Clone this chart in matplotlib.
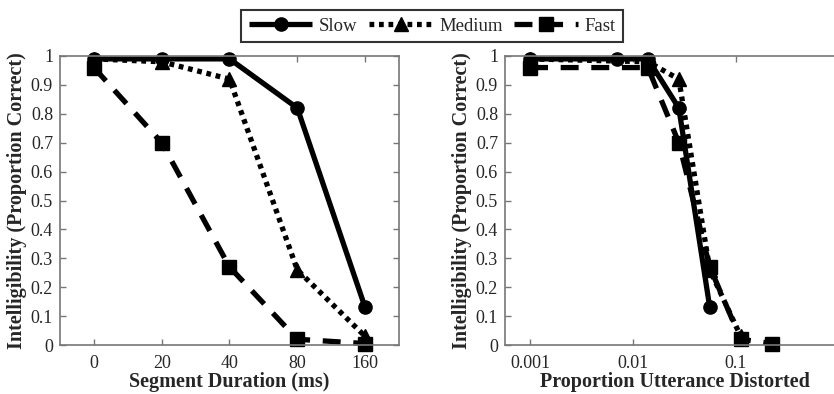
import matplotlib
matplotlib.use("Agg")
import matplotlib.pyplot as plt
from matplotlib.ticker import FixedLocator, NullLocator, FuncFormatter

plt.rcParams['font.family'] = ['Liberation Serif', 'DejaVu Serif']

# ---------------- data ----------------
durations = ["0", "20", "40", "80", "160"]
slow_left = [0.99, 0.99, 0.99, 0.82, 0.13]
medium_left = [0.99, 0.98, 0.92, 0.26, 0.03]
fast_left = [0.96, 0.70, 0.27, 0.02, 0.005]

slow_x = [0.001, 0.007, 0.014, 0.028, 0.056]
slow_right = [0.99, 0.99, 0.99, 0.82, 0.13]
medium_x = [0.001, 0.014, 0.028, 0.056, 0.112]
medium_right = [0.99, 0.98, 0.92, 0.26, 0.03]
fast_x = [0.001, 0.014, 0.028, 0.056, 0.112, 0.224]
fast_right = [0.96, 0.96, 0.70, 0.27, 0.02, 0.005]

series_names = ["Slow", "Medium", "Fast"]
yticks = [0, 0.1, 0.2, 0.3, 0.4, 0.5, 0.6, 0.7, 0.8, 0.9, 1]
xticks_right = [0.001, 0.01, 0.1]
xtick_labels_right = ["0.001", "0.01", "0.1"]

# ---------------- style ----------------
LW = 3.8
MS = 9.5
styles = {
    "Slow": dict(linestyle='-', marker='o'),
    "Medium": dict(linestyle=(0, (0.9, 0.9)), marker='^'),
    "Fast": dict(linestyle=(0, (3.4, 2.4)), marker='s'),
}
spine_col = '#777777'
text_col = '#262626'

fig = plt.figure(figsize=(8.34, 3.94), dpi=100)
W, H = 834, 394
ax1 = fig.add_axes([60 / W, (H - 345) / H, 339 / W, 289 / H])
ax2 = fig.add_axes([505 / W, (H - 345) / H, 339 / W, 289 / H])


def yfmt(v, pos):
    s = f"{v:.1f}"
    if s.endswith(".0"):
        s = s[:-2]
    return s


def style_axes(ax, box=True):
    for name, sp in ax.spines.items():
        sp.set_color(spine_col)
        sp.set_linewidth(1.2)
    ax.tick_params(direction='in', length=4, width=1, color=spine_col,
                   labelsize=13, labelcolor=text_col,
                   top=True, right=box)
    ax.tick_params(axis='x', pad=7)
    ax.tick_params(axis='y', pad=5)
    ax.set_ylim(0, 1)
    ax.yaxis.set_major_locator(FixedLocator(yticks))
    ax.yaxis.set_major_formatter(FuncFormatter(yfmt))
    ax.set_ylabel("Intelligibility (Proportion Correct)", fontsize=14.5,
                  fontweight='bold', color=text_col, labelpad=3)


# left plot
pos = list(range(1, len(durations) + 1))
lines = []
for name, vals in zip(series_names, [slow_left, medium_left, fast_left]):
    ln, = ax1.plot(pos, vals, color='black', lw=LW, ms=MS, label=name,
                   dash_capstyle='butt', solid_capstyle='butt', clip_on=False,
                   **styles[name])
    lines.append(ln)
ax1.set_xlim(0.5, 5.5)
ax1.set_xticks(pos)
ax1.set_xticklabels(durations)
style_axes(ax1, box=True)
ax1.set_xlabel("Segment Duration (ms)", fontsize=14.5, fontweight='bold',
               color=text_col, labelpad=0)

# right plot
for name, xs, vals in zip(series_names, [slow_x, medium_x, fast_x],
                          [slow_right, medium_right, fast_right]):
    ax2.plot(xs, vals, color='black', lw=LW, ms=MS, label=name,
             dash_capstyle='butt', solid_capstyle='butt', clip_on=False,
             **styles[name])
ax2.set_xscale('log')
ax2.set_xlim(10 ** -3.244, 10 ** 0.054)
ax2.xaxis.set_major_locator(FixedLocator(xticks_right))
ax2.xaxis.set_minor_locator(NullLocator())
ax2.set_xticklabels(xtick_labels_right)
style_axes(ax2, box=True)
ax2.set_xlabel("Proportion Utterance Distorted", fontsize=14.5,
               fontweight='bold', color=text_col, labelpad=0)

leg = fig.legend(handles=lines, labels=series_names, loc='center',
                 bbox_to_anchor=(432 / W, 1 - 26 / H), ncol=3, fontsize=13.5,
                 frameon=True, fancybox=False, handlelength=3.4,
                 columnspacing=0.6, handletextpad=0.35, borderpad=0.4,
                 edgecolor='black')
leg.get_frame().set_linewidth(1.5)
for t in leg.get_texts():
    t.set_color(text_col)

fig.savefig("out.png", dpi=100)
